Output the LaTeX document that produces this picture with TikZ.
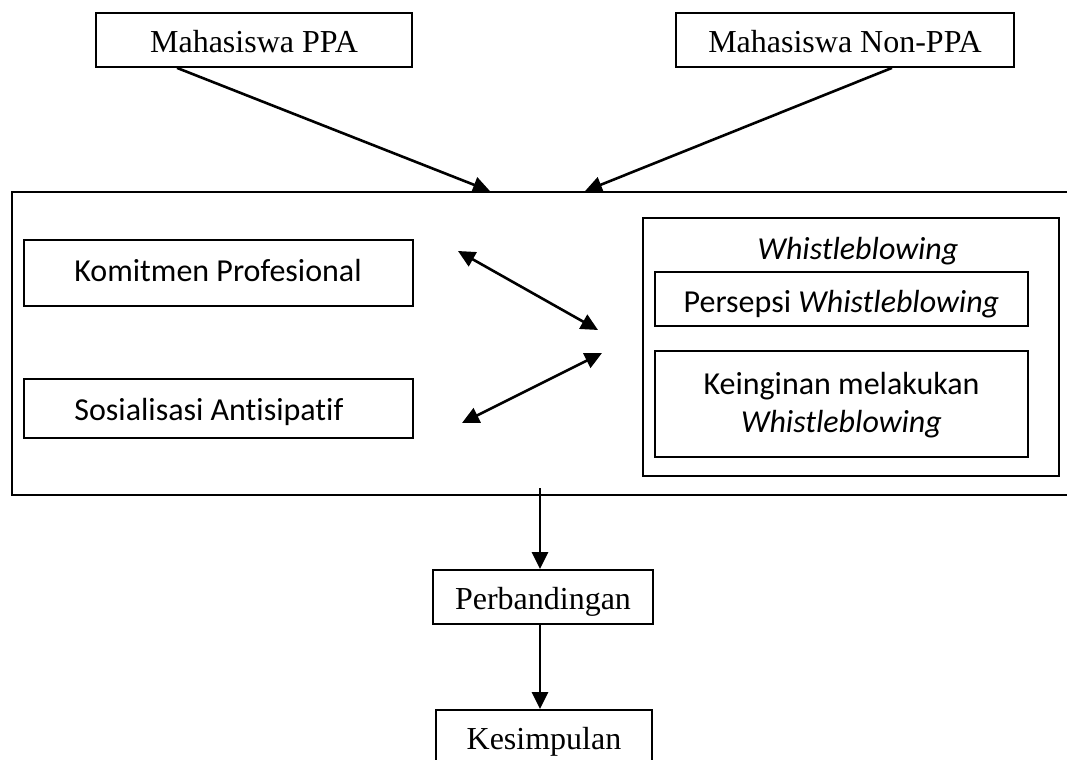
\documentclass[tikz,border=0pt]{standalone}
\usepackage{fontspec}
\setmainfont{Liberation Serif}
\newfontfamily\calfont[Ligatures=NoCommon]{Carlito}
\usetikzlibrary{arrows.meta}
\begin{document}
\begin{tikzpicture}[x=0.5pt,y=-0.5pt,
  box/.style={draw, line width=0.9pt, inner sep=0pt},
  conn/.style={line width=1.3pt, -{Triangle[length=8.5pt,width=8pt]}},
  dconn/.style={line width=1.3pt, {Triangle[length=8.5pt,width=8pt]}-{Triangle[length=8.5pt,width=8pt]}},
  serif/.style={font=\fontsize{16}{19}\selectfont, inner sep=0pt},
  sans/.style={font=\calfont\fontsize{16}{19}\selectfont, inner sep=0pt}]
\useasboundingbox (0,0) rectangle (1067,760);
\clip (0,0) rectangle (1067,760);
\fill[white] (0,0) rectangle (1067,760);

% boxes
\node[box, minimum width=158pt, minimum height=27pt] (ppa) at (254,40) {};
\node[box, minimum width=169pt, minimum height=27pt] (nppa) at (845,40) {};
\node[box, minimum width=539pt, minimum height=151.5pt] (big) at (551,343.5) {};
\node[box, minimum width=194.5pt, minimum height=33pt] (kom) at (218.5,273) {};
\node[box, minimum width=194.5pt, minimum height=29.5pt] (sos) at (218.5,408.5) {};
\node[box, minimum width=208pt, minimum height=129pt] (wb) at (851,347) {};
\node[box, minimum width=186.5pt, minimum height=27pt] (per) at (841.5,299) {};
\node[box, minimum width=186.5pt, minimum height=53pt] (kei) at (841.5,404) {};
\node[box, minimum width=110pt, minimum height=27pt] (perb) at (543,597) {};
\node[box, minimum width=108pt, minimum height=28pt] (kes) at (544,738) {};

% texts
\node[serif, anchor=base] (tppa) at (254,53) {Mahasiswa PPA};
\node[serif, anchor=base] (tnppa) at (845,53) {Mahasiswa Non-PPA};
\node[sans, anchor=base west] (tkom) at (74,281) {Komitmen Profesional};
\node[sans, anchor=base west] (tsos) at (74,420) {Sosialisasi Antisipatif};
\node[sans, anchor=base] (twb) at (858,259) {\itshape Whistleblowing};
\begin{scope}
\clip (655,272) rectangle (1028,317);
\node[sans, anchor=base] (tper) at (841.5,312) {Persepsi \textit{Whistleblowing}};
\end{scope}
\node[sans, anchor=base] (tkei1) at (841.5,394) {Keinginan melakukan};
\node[sans, anchor=base] (tkei2) at (841.5,432) {\itshape Whistleblowing};
\node[serif, anchor=base] (tperb) at (543,609) {Perbandingan};
\node[serif, anchor=base] (tkes) at (544,749) {Kesimpulan};

% connector coordinates
\coordinate (ppaout) at (177,67);
\coordinate (ppain) at (490,192);
\coordinate (nppaout) at (892,67);
\coordinate (nppain) at (585,192);
\coordinate (k1) at (458,251);
\coordinate (w1) at (598,330);
\coordinate (w2) at (602,353);
\coordinate (s1) at (462,423);
\coordinate (dx) at (540,488);

\draw[conn] (ppa.south -| ppaout) -- (big.north -| ppain);
\draw[conn] (nppa.south -| nppaout) -- (big.north -| nppain);
\draw[dconn] (k1) -- (w1);
\draw[dconn] (w2) -- (s1);
\draw[conn] (dx) -- (perb.north -| dx);
\draw[conn] (perb.south -| dx) -- (kes.north -| dx);
\end{tikzpicture}
\end{document}
